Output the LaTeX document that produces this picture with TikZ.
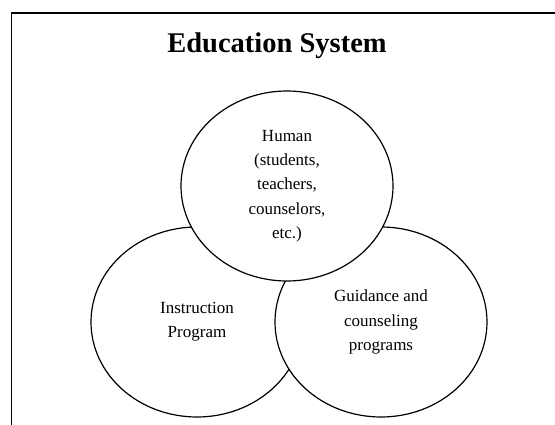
\documentclass[tikz,border=0pt]{standalone}
\usepackage{fontspec}
\setmainfont{Liberation Serif}
\usetikzlibrary{shapes.geometric}
\begin{document}
\begin{tikzpicture}[x=1pt,y=-1pt,
    part/.style={ellipse,draw,fill=white,line width=1.2pt,
      minimum width=212pt,minimum height=190pt,inner sep=0pt,
      align=center,font=\fontsize{17}{24.3}\selectfont}]
  \useasboundingbox (0,0) rectangle (555,425);
  \draw[line width=1.5pt] (555,13) -- (11.5,13) -- (11.5,425);
  \node[anchor=base,font=\fontsize{28.5}{34}\selectfont\bfseries] (title) at (277,53) {Education System};
  \draw
    (197,322) node[part] (instr){Instruction\\Program}
    (381,322) node[part] (guide){Guidance and\\counseling\\programs}
    (287,186) node[part] (human){Human\\(students,\\teachers,\\counselors,\\etc.)};
\end{tikzpicture}
\end{document}
